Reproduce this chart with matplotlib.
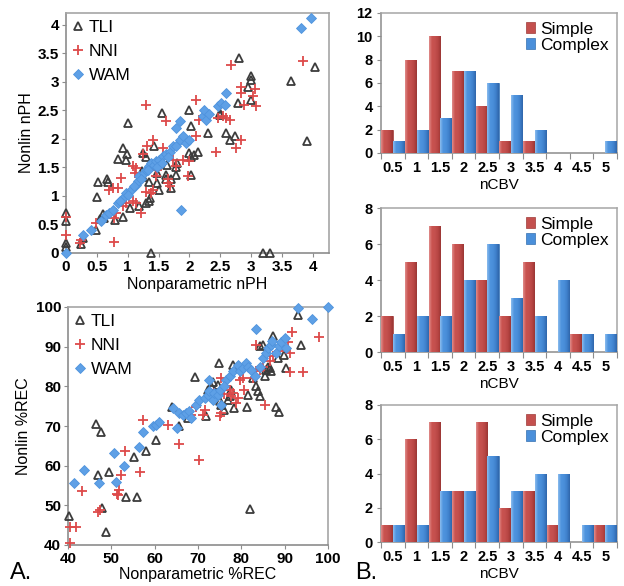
import matplotlib
matplotlib.use("Agg")
import matplotlib.pyplot as plt
from matplotlib.colors import LinearSegmentedColormap
import numpy as np

plt.rcParams['font.family'] = ['Liberation Sans', 'DejaVu Sans']

# ---------------- Data: scatter nPH ----------------
tli_nph_x = [0, 0, 0, 0, 0.27, 0.24, 0.49, 0.51, 0.52, 0.66, 0.68, 1.0, 0.92, 0.84, 0.97, 0.93, 0.8,
             1.04, 1.24, 1.3, 1.3, 1.35, 1.36, 1.38, 1.43, 1.46, 1.47, 1.55, 1.51, 1.62, 1.62, 1.7,
             1.7, 1.78, 2.0, 2.0, 2.03, 2.03, 2.14, 2.02, 2.3, 2.49, 2.49, 2.59, 2.65, 2.73, 2.78,
             2.81, 2.95, 3.0, 3.0, 3.0, 3.19, 3.31, 3.65, 3.9, 4.03, 0.62, 0.6, 0.55, 0.98, 1.23,
             1.25, 1.48, 1.63, 1.78, 1.8, 2.07, 1.18, 1.35]
tli_nph_y = [0.70, 0.56, 0.18, 0.10, 0.26, 0.15, 0.41, 0.99, 1.24, 1.29, 1.24, 2.28, 1.84, 1.65, 1.63,
             0.64, 0.58, 0.79, 1.75, 1.68, 0.88, 0.92, 0.96, 0.0, 1.87, 1.52, 1.40, 2.46, 1.11, 1.37,
             1.29, 1.29, 1.14, 1.37, 1.75, 2.51, 2.22, 1.37, 1.78, 1.68, 2.10, 2.46, 2.42, 2.10, 1.99,
             2.05, 2.63, 3.42, 2.92, 3.10, 3.04, 2.69, 0.0, 0.0, 3.01, 1.96, 3.27, 0.62, 0.68, 0.60,
             1.74, 1.43, 1.34, 1.22, 1.55, 1.50, 1.58, 1.72, 0.82, 1.25]

nni_nph_x = [0, 0, 0.22, 0.24, 0.49, 0.78, 0.7, 0.84, 0.89, 0.78, 0.81, 0.97, 1.14, 1.08, 1.22,
             1.08, 1.14, 1.3, 1.32, 1.41, 1.38, 1.41, 1.46, 1.57, 1.62, 1.65, 1.65, 1.68, 1.73,
             1.78, 1.89, 1.97, 2.11, 2.11, 2.16, 2.43, 2.46, 2.68, 2.65, 2.59, 2.76, 2.84, 2.84,
             2.84, 2.89, 3.03, 3.06, 3.08, 3.84, 0.76, 0.92, 1.24, 1.11, 2.54, 2.0, 1.3, 1.48]
nni_nph_y = [0.64, 0.32, 0.18, 0.23, 0.53, 0.20, 1.11, 1.14, 1.32, 0.61, 0.70, 0.88, 0.88, 0.91, 0.70,
             1.52, 1.49, 2.60, 1.87, 1.99, 1.05, 1.10, 1.35, 1.84, 2.31, 1.29, 1.23, 1.17, 1.64,
             1.52, 1.64, 1.35, 2.69, 2.05, 2.34, 1.78, 2.37, 3.30, 2.34, 2.37, 1.84, 1.99, 2.92,
             2.81, 2.60, 2.75, 2.87, 2.57, 3.36, 1.14, 0.82, 1.73, 1.40, 2.40, 1.62, 1.07, 1.45]

wam_nph_x = [0, 0.27, 0.41, 0.57, 0.65, 0.70, 0.76, 0.84, 0.92, 0.97, 1.05, 1.14, 1.16, 1.19, 1.27,
             1.30, 1.35, 1.38, 1.43, 1.46, 1.51, 1.57, 1.62, 1.68, 1.73, 1.78, 1.84, 1.89, 1.78,
             1.84, 1.86, 1.95, 2.22, 2.24, 2.27, 2.32, 2.46, 2.51, 2.59, 2.57, 3.81, 3.97, 1.22,
             1.33, 1.48, 1.55, 1.66, 2.0, 1.1, 1.01, 0.88]
wam_nph_y = [0.0, 0.31, 0.41, 0.56, 0.67, 0.70, 0.76, 0.88, 0.96, 1.05, 1.11, 1.20, 1.26, 1.35, 1.40,
             1.46, 1.52, 1.58, 1.55, 1.61, 1.64, 1.70, 1.73, 1.78, 1.87, 1.87, 1.99, 2.05, 2.19,
             2.31, 0.76, 1.93, 2.40, 2.51, 2.34, 2.43, 2.57, 2.63, 2.81, 2.60, 3.95, 4.13, 1.30,
             1.45, 1.50, 1.58, 1.68, 1.98, 1.17, 1.02, 0.92]

# ---------------- Data: scatter %REC ----------------
tli_rec_x = [40.2, 46.4, 47.6, 47.0, 47.9, 48.7, 49.5, 53.3, 55.9, 55.3, 58.0, 60.3, 64.0, 65.7,
             69.4, 71.9, 72.3, 74.8, 73.4, 74.6, 75.3, 76.1, 77.3, 77.7, 78.4, 78.0, 81.3, 82.0,
             81.5, 83.4, 83.8, 84.2, 85.0, 85.4, 85.8, 86.5, 87.3, 88.5, 88.1, 88.7, 90.4, 89.9,
             93.1, 93.7, 84.2, 86.1, 86.9, 76.9, 73.0, 67.6, 75.0, 79.8, 82.6]
tli_rec_y = [47.3, 70.5, 68.6, 57.7, 49.3, 43.4, 58.3, 52.2, 52.2, 62.1, 63.6, 66.5, 74.8, 69.9,
             82.3, 72.4, 79.1, 86.0, 81.2, 80.4, 75.4, 74.1, 77.5, 79.1, 74.5, 85.5, 74.9, 49.0,
             77.9, 80.0, 78.7, 77.5, 90.5, 82.5, 84.2, 84.6, 92.6, 87.1, 74.9, 73.5, 84.6, 88.0,
             98.1, 90.3, 90.1, 85.0, 83.8, 76.6, 80.0, 72.0, 76.4, 85.0, 82.0]

nni_rec_x = [40.4, 41.8, 40.4, 43.3, 47.0, 47.3, 51.2, 51.8, 51.6, 52.2, 53.2, 56.7, 57.2, 63.0,
             65.5, 70.3, 68.4, 69.6, 71.1, 71.5, 73.4, 73.8, 75.0, 75.2, 75.3, 76.5, 77.3, 77.7,
             78.0, 78.8, 79.2, 79.6, 80.4, 82.7, 83.4, 84.2, 85.0, 85.4, 83.3, 86.5, 87.3, 88.8,
             90.8, 91.2, 91.6, 91.2, 94.2, 97.9, 89.5, 76.0, 80.5]
nni_rec_y = [44.6, 44.6, 40.6, 53.5, 48.4, 48.8, 52.9, 53.9, 52.5, 57.7, 63.6, 58.5, 71.6, 70.3,
             65.5, 61.5, 72.8, 74.9, 72.8, 74.1, 77.5, 78.3, 72.4, 73.2, 82.1, 80.0, 79.1, 77.5,
             78.3, 75.8, 77.0, 81.7, 82.1, 82.1, 83.8, 84.2, 85.0, 75.4, 90.5, 86.3, 87.6, 88.8,
             91.3, 88.4, 93.8, 83.7, 83.7, 92.5, 90.2, 78.0, 79.0]

wam_rec_x = [41.4, 43.7, 47.2, 50.6, 51.0, 53.0, 56.3, 57.4, 59.5, 60.3, 61.1, 64.3, 65.2, 65.7,
             66.5, 67.2, 68.0, 68.4, 69.6, 70.3, 71.5, 72.3, 72.6, 73.4, 73.8, 72.6, 74.6, 75.0,
             75.3, 76.5, 77.3, 78.0, 79.2, 79.6, 80.4, 81.1, 81.5, 83.1, 83.4, 84.2, 85.0, 85.8,
             86.1, 86.9, 88.1, 88.8, 89.2, 90.0, 90.4, 93.1, 96.2, 100.0, 87.0, 82.3, 76.0]
wam_rec_y = [55.6, 58.9, 55.7, 63.1, 55.8, 59.8, 64.7, 68.6, 69.9, 70.3, 70.9, 74.5, 69.5, 73.2,
             72.8, 73.2, 73.7, 72.0, 75.4, 76.6, 77.0, 77.9, 78.7, 76.6, 78.3, 81.7, 77.9, 79.1,
             75.4, 81.7, 82.5, 83.8, 85.5, 83.8, 84.6, 85.9, 85.0, 82.7, 94.5, 85.0, 87.1, 88.4,
             89.7, 90.5, 88.4, 90.1, 91.3, 92.2, 89.7, 99.8, 97.0, 100.0, 91.5, 84.0, 80.2]

# ---------------- Data: histograms ----------------
bins = ['0.5', '1', '1.5', '2', '2.5', '3', '3.5', '4', '4.5', '5']
simple_1 = [2, 8, 10, 7, 4, 1, 1, 0, 0, 0]
complex_1 = [1, 2, 3, 7, 6, 5, 2, 0, 0, 1]
simple_2 = [2, 5, 7, 6, 4, 2, 5, 0, 1, 0]
complex_2 = [1, 2, 2, 4, 6, 3, 2, 4, 1, 1]
simple_3 = [1, 6, 7, 3, 7, 2, 3, 1, 0, 1]
complex_3 = [1, 1, 3, 3, 5, 3, 4, 4, 1, 1]

W, H = 624, 586
fig = plt.figure(figsize=(W / 100, H / 100), dpi=100)


def ax_px(left, top, right, bottom):
    return fig.add_axes([left / W, 1 - bottom / H, (right - left) / W, (bottom - top) / H])


FRAME = '#A6A6A6'
TRI = '#3C3C3C'
RED_P = '#DD4A4A'
BLUE_D = '#5EA0E6'


def style_scatter(ax):
    for s in ax.spines.values():
        s.set_color(FRAME)
        s.set_linewidth(1.2)
    ax.spines['left'].set_color('#8C8C8C')
    ax.spines['bottom'].set_color('#8C8C8C')
    ax.tick_params(axis='both', direction='out', length=3, color='#8C8C8C', width=0.8,
                   labelsize=11, pad=2)
    for lab in ax.get_xticklabels() + ax.get_yticklabels():
        lab.set_fontweight('bold')


def scatter_panel(ax, tx, ty, nx, ny, wx, wy):
    ax.plot(tx, ty, ls='none', marker='^', ms=6.2, mfc='none', mec=TRI, mew=1.3,
            label='TLI', clip_on=False, zorder=3)
    ax.plot(nx, ny, ls='none', marker='+', ms=7, mec=RED_P, mew=1.3,
            label='NNI', clip_on=False, zorder=4)
    ax.plot(wx, wy, ls='none', marker='D', ms=5.2, mfc=BLUE_D, mec='#4F93DD', mew=0.6,
            label='WAM', clip_on=False, zorder=5)
    ax.legend(loc='upper left', frameon=False, fontsize=12.5, handlelength=0.6,
              handletextpad=0.3, labelspacing=0.5, borderaxespad=0.0,
              bbox_to_anchor=(0.0, 1.0))


# Top scatter
ax1 = ax_px(66, 13, 329, 253)
scatter_panel(ax1, tli_nph_x, tli_nph_y, nni_nph_x, nni_nph_y, wam_nph_x, wam_nph_y)
ax1.set_xlim(0, 4.26)
ax1.set_ylim(0, 4.21)
ax1.set_xticks(np.arange(0, 4.01, 0.5))
ax1.set_yticks(np.arange(0, 4.01, 0.5))
ax1.set_xticklabels(['0', '0.5', '1', '1.5', '2', '2.5', '3', '3.5', '4'])
ax1.set_yticklabels(['0', '0.5', '1', '1.5', '2', '2.5', '3', '3.5', '4'])
style_scatter(ax1)
ax1.set_xlabel('Nonparametric nPH', fontsize=11.5, labelpad=2)
ax1.set_ylabel('Nonlin nPH', fontsize=11.5, labelpad=3)

# Bottom scatter
ax2 = ax_px(68, 307, 328, 545)
scatter_panel(ax2, tli_rec_x, tli_rec_y, nni_rec_x, nni_rec_y, wam_rec_x, wam_rec_y)
ax2.set_xlim(40, 100)
ax2.set_ylim(40, 100)
ax2.set_xticks(np.arange(40, 101, 10))
ax2.set_yticks(np.arange(40, 101, 10))
style_scatter(ax2)
ax2.set_xlabel('Nonparametric %REC', fontsize=11.5, labelpad=1)
ax2.set_ylabel('Nonlin %REC', fontsize=11.5, labelpad=3)

RED = '#C4504E'
BLUE = '#4A8FDA'
red_cmap = LinearSegmentedColormap.from_list('r', ['#E08C8A', '#C9524F', '#C4504E', '#B84644', '#9A3634'])
blue_cmap = LinearSegmentedColormap.from_list('b', ['#8CBDEE', '#4F94DE', '#4A8FDA', '#3F80CC', '#2F66AA'])
grad = np.linspace(0, 1, 64).reshape(1, -1)


def shade(ax, bars, cmap):
    for p in bars.patches:
        x0, y0 = p.get_x(), p.get_y()
        w, h = p.get_width(), p.get_height()
        if h <= 0:
            continue
        im = ax.imshow(grad, extent=[x0, x0 + w, y0, y0 + h], aspect='auto', cmap=cmap,
                       origin='lower', zorder=3.5, interpolation='bilinear')
        im.set_clip_path(p)


def bar_panel(ax, simple, complex_, ymax, ystep):
    x = np.arange(len(bins))
    w = 0.47
    bs = ax.bar(x - 0.245, simple, width=w, color=RED, edgecolor='#9E3A38', linewidth=0.5,
                label='Simple', zorder=3)
    bc = ax.bar(x + 0.245, complex_, width=w, color=BLUE, edgecolor='#3570B0', linewidth=0.5,
                label='Complex', zorder=3)
    shade(ax, bs, red_cmap)
    shade(ax, bc, blue_cmap)
    ax.set_xlim(-0.5, len(bins) - 0.5)
    ax.set_ylim(0, ymax)
    ax.set_aspect('auto')
    ax.set_yticks(np.arange(0, ymax + 0.1, ystep))
    ax.set_xticks(np.arange(-0.5, len(bins), 1.0))
    ax.set_xticklabels([])
    ax.set_xticks(x, minor=True)
    ax.set_xticklabels(bins, minor=True)
    ax.tick_params(axis='x', which='major', direction='out', length=4, color='#8C8C8C')
    ax.tick_params(axis='x', which='minor', length=0, labelsize=10.5, pad=6)
    ax.tick_params(axis='y', direction='out', length=3, color='#8C8C8C', labelsize=10.5, pad=3)
    for lab in ax.get_xticklabels(minor=True) + ax.get_yticklabels():
        lab.set_fontweight('bold')
    for s in ax.spines.values():
        s.set_color(FRAME)
        s.set_linewidth(1.1)
    ax.spines['left'].set_color('#8C8C8C')
    ax.spines['bottom'].set_color('#8C8C8C')
    ax.legend(loc='upper right', frameon=False, fontsize=12.5, handlelength=0.55,
              handleheight=0.55, handletextpad=0.25, labelspacing=0.05, borderaxespad=0.1)
    ax.set_xlabel('nCBV', fontsize=11, labelpad=2)


b1 = ax_px(381, 13, 617, 153)
bar_panel(b1, simple_1, complex_1, 12, 2)
b2 = ax_px(381, 208, 617, 352)
bar_panel(b2, simple_2, complex_2, 8, 2)
b3 = ax_px(381, 405, 617, 542)
bar_panel(b3, simple_3, complex_3, 8, 2)

fig.text(10 / W, 1 - 584 / H, 'A.', fontsize=17, ha='left', va='bottom')
fig.text(355 / W, 1 - 584 / H, 'B.', fontsize=17, ha='left', va='bottom')

fig.savefig('out.png', dpi=100)
